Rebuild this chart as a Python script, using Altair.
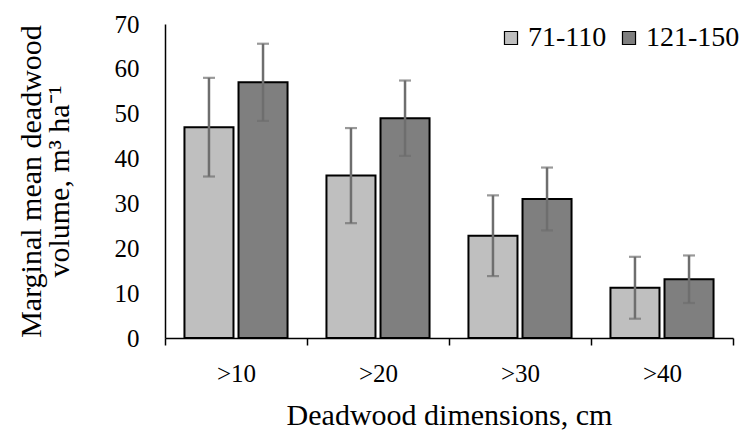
import altair as alt
import pandas as pd

categories = [">10", ">20", ">30", ">40"]
groups = ["71-110", "121-150"]
means_71_110 = [47.0, 36.2, 22.8, 11.2]
means_121_150 = [57.0, 49.0, 31.0, 13.1]
err_71_110 = [11.0, 10.6, 9.0, 6.9]
err_121_150 = [8.6, 8.4, 7.0, 5.3]

rows = []
for i, c in enumerate(categories):
    for g, m, e in ((groups[0], means_71_110[i], err_71_110[i]),
                    (groups[1], means_121_150[i], err_121_150[i])):
        rows.append({"cat": c, "group": g, "mean": m, "lo": m - e, "hi": m + e})
df = pd.DataFrame(rows)

FONT = "Liberation Serif"
ERR = "#6e6e6e"

x_enc = alt.X("cat:N", sort=categories,
              scale=alt.Scale(paddingInner=0, paddingOuter=0),
              axis=alt.Axis(title="Deadwood dimensions, cm", labelAngle=0,
                            tickBand="extent", tickSize=7, tickWidth=1.5,
                            tickColor="black", domainColor="black", domainWidth=1.5,
                            labelPadding=16, labelFontSize=25,
                            labelColor="black", titleFontSize=30,
                            titleFontWeight="normal", titleColor="black",
                            titlePadding=14))
xo_enc = alt.XOffset("group:N", sort=groups,
                     scale=alt.Scale(paddingInner=0.093, paddingOuter=0.36))
y_enc = alt.Y("mean:Q", scale=alt.Scale(domain=[0, 70]),
              axis=alt.Axis(title=["Marginal mean deadwood", "volume, m³ ha⁻¹"],
                            values=[0, 10, 20, 30, 40, 50, 60, 70],
                            ticks=False, grid=False, domainColor="black",
                            domainWidth=1.5, labelPadding=26, labelFontSize=25,
                            labelColor="black",
                            titleFontSize=30, titleFontWeight="normal",
                            titleColor="black", titlePadding=40,
                            titleLineHeight=28))

bars = alt.Chart(df).mark_bar(stroke="black", strokeWidth=2).encode(
    x=x_enc, xOffset=xo_enc, y=y_enc,
    color=alt.Color("group:N", sort=groups,
                    scale=alt.Scale(domain=groups, range=["#BFBFBF", "#7F7F7F"]),
                    legend=alt.Legend(title=None, orient="none", direction="horizontal",
                                      legendX=332, legendY=0, symbolType="square",
                                      symbolSize=170, symbolStrokeColor="black",
                                      symbolStrokeWidth=1.2,
                                      labelFontSize=28, labelColor="black",
                                      columnPadding=8, labelOffset=3))
)

rules = alt.Chart(df).mark_rule(color=ERR, strokeWidth=2.5).encode(
    x=alt.X("cat:N", sort=categories), xOffset=alt.XOffset("group:N", sort=groups),
    y="lo:Q", y2="hi:Q")
caps_lo = alt.Chart(df).mark_tick(color=ERR, thickness=2.2, size=12).encode(
    x=alt.X("cat:N", sort=categories), xOffset=alt.XOffset("group:N", sort=groups),
    y="lo:Q")
caps_hi = alt.Chart(df).mark_tick(color=ERR, thickness=2.2, size=12).encode(
    x=alt.X("cat:N", sort=categories), xOffset=alt.XOffset("group:N", sort=groups),
    y="hi:Q")

chart = alt.layer(bars, rules, caps_lo, caps_hi).properties(
    width=568, height=314,
    autosize=alt.AutoSizeParams(type="none"),
    padding={"left": 165, "top": 24, "right": 16, "bottom": 103},
    background="white",
).configure(font=FONT).configure_axis(
    labelFont=FONT, titleFont=FONT
).configure_legend(labelFont=FONT).configure_view(stroke=None)

chart.save("out.html", embed_options={"renderer": "svg", "actions": False})
